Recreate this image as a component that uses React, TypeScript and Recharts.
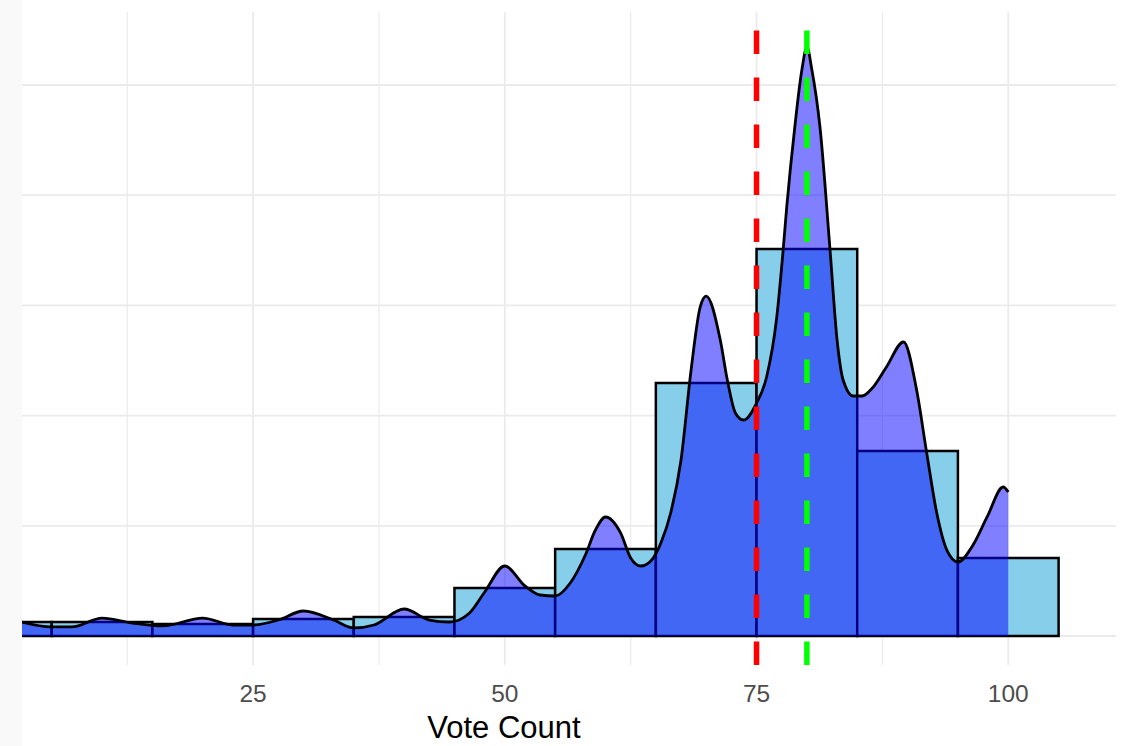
import React from "react"
import {
  ComposedChart,
  Area,
  XAxis,
  YAxis,
  ReferenceArea,
  ReferenceLine,
  Label,
} from "recharts"

// histogram bins (width 10), density scale
const binStarts = [-5, 5, 15, 25, 35, 45, 55, 65, 75, 85, 95]
const binDensity = [
  0.00127, 0.00127, 0.00109, 0.00154, 0.00172, 0.00436, 0.00789, 0.02296, 0.03512, 0.01679, 0.00708,
]

// kernel density curve
const densityX = [
  2, 5, 7, 10, 13, 16, 20, 23, 25, 27.5, 30, 33, 35, 37, 40, 42.5, 44.5, 46.5, 48, 50, 52, 53.5, 55,
  56.5, 58, 59, 60, 61.5, 62.5, 63.5, 64.5, 65.5, 66.5, 67.5, 68.5, 69.4, 70, 71.4, 72.1, 72.9, 73.7,
  75, 76, 77, 77.6, 78, 78.8, 79.5, 80, 80.5, 81.3, 82.3, 83, 83.6, 84.6, 85.5, 86.5, 87.9, 89.6, 90.9,
  91.9, 92.9, 93.9, 95, 96.5, 97.9, 99.5, 100,
]
const densityY = [
  0.00127, 0.00082, 0.00082, 0.00163, 0.00118, 0.00091, 0.00163, 0.001, 0.001, 0.00145, 0.00227,
  0.00145, 0.00073, 0.001, 0.00245, 0.00145, 0.00127, 0.00209, 0.00399, 0.00635, 0.00454, 0.00372,
  0.00363, 0.00481, 0.00735, 0.00962, 0.0108, 0.00935, 0.00708, 0.00635, 0.00681, 0.00844, 0.01125,
  0.01597, 0.02414, 0.02985, 0.03085, 0.02686, 0.02323, 0.02024, 0.0196, 0.02114, 0.0235, 0.02886,
  0.03457, 0.03893, 0.04619, 0.05136, 0.05345, 0.05136, 0.04619, 0.03503, 0.02686, 0.02323, 0.02178,
  0.02178, 0.0225, 0.02441, 0.02668, 0.02232, 0.01661, 0.01116, 0.0078, 0.00672, 0.00826, 0.0108,
  0.01352, 0.01307,
]

const meanVotes = 75
const medianVotes = 80

const xTicks = [12.5, 25, 37.5, 50, 62.5, 75, 87.5, 100]
const yTicks = [0, 0.01, 0.02, 0.03, 0.04, 0.05]

const data = densityX.map((x, i) => ({ x, d: densityY[i] }))

const font = "'Liberation Sans', Arial, sans-serif"
const gridColor = "#EBEBEB"

export default function App() {
  return (
    <div style={{ position: "absolute", left: 0, top: 0, width: 1132, height: 746, background: "#fff" }}>
      <div style={{ position: "absolute", left: 0, top: 0, width: 22, height: 746, background: "#F9F9F9" }} />
      <ComposedChart
        width={1132}
        height={746}
        data={data}
        margin={{ top: 12, right: 16, bottom: 0, left: 22 }}
        style={{ fontFamily: font }}
      >
        <XAxis
          dataKey="x"
          type="number"
          domain={[2.05, 110.7]}
          allowDataOverflow
          ticks={xTicks}
          interval={0}
          tickFormatter={(v: number) => (v % 25 === 0 ? String(v) : "")}
          axisLine={false}
          tickLine={false}
          tickSize={6}
          tickMargin={14}
          height={81}
          tick={{ fill: "#4D4D4D", fontSize: 24.5, fontFamily: font }}
        >
          <Label
            value="Vote Count"
            position="insideBottom"
            offset={8}
            dx={-65}
            style={{ fill: "#000", fontSize: 31, fontFamily: font }}
          />
        </XAxis>
        <YAxis type="number" domain={[-0.002632, 0.056624]} ticks={yTicks} allowDataOverflow hide />
        {/* panel grid */}
        {yTicks.map((t) => (
          <ReferenceLine key={"h" + t} y={t} stroke={gridColor} strokeWidth={1.8} zIndex={-100} />
        ))}
        {xTicks.map((t) => (
          <ReferenceLine
            key={"v" + t}
            x={t}
            stroke={gridColor}
            strokeWidth={t % 25 === 0 ? 1.8 : 1.2}
            zIndex={-100}
          />
        ))}
        {binStarts.map((b, i) => (
          <ReferenceArea
            key={b}
            x1={b}
            x2={b + 10}
            y1={0}
            y2={binDensity[i]}
            ifOverflow="hidden"
            fill="#87CEEB"
            fillOpacity={1}
            stroke="#000"
            strokeWidth={2.5}
            zIndex={60}
          />
        ))}
        <Area
          type="monotone"
          dataKey="d"
          stroke="#000"
          strokeWidth={2.8}
          fill="#0000FF"
          fillOpacity={0.5}
          dot={false}
          activeDot={false}
          isAnimationActive={false}
        />
        <ReferenceLine x={meanVotes} stroke="#FF0000" strokeWidth={5.5} strokeDasharray="23.5 23.5" zIndex={700} />
        <ReferenceLine x={medianVotes} stroke="#00FF00" strokeWidth={5.5} strokeDasharray="23.5 23.5" zIndex={700} />
      </ComposedChart>
    </div>
  )
}
